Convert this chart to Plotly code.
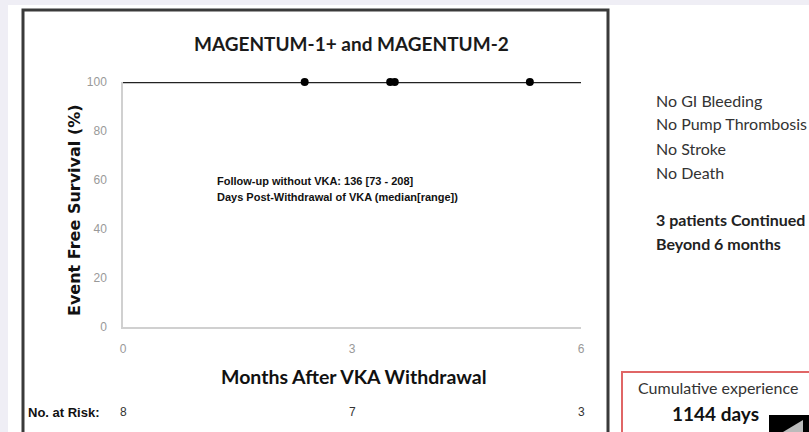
import plotly.graph_objects as go

# Kaplan-Meier data: event-free survival after VKA withdrawal
km_months = [0, 6]
km_survival = [100, 100]
censor_months = [2.38, 3.50, 3.56, 5.33]
censor_survival = [100, 100, 100, 100]

x_ticks = [0, 3, 6]
y_ticks = [0, 20, 40, 60, 80, 100]

risk_months = [0, 3, 6]
risk_counts = [8, 7, 3]

outcome_lines = ["No GI Bleeding", "No Pump Thrombosis", "No Stroke", "No Death"]
continued_lines = ["3 patients Continued", "Beyond 6 months"]
cumulative_days = 1144

W, H = 809, 432
L, R, T, B = 123, 581, 82, 327


def px(x):
    return (x - L) / (R - L)


def py(y):
    return (B - y) / (B - T)


fig = go.Figure()
fig.add_trace(go.Scatter(
    x=km_months, y=km_survival, mode="lines",
    line=dict(color="#222222", width=2.5), cliponaxis=False, showlegend=False,
))
fig.add_trace(go.Scatter(
    x=censor_months, y=censor_survival, mode="markers",
    marker=dict(color="#000000", size=8), cliponaxis=False, showlegend=False,
))

narrow = "Liberation Sans Narrow, Arial Narrow, Liberation Sans, Arial"
sans = "Lato, Open Sans, sans-serif"

ann = []
ann.append(dict(text="<b>MAGENTUM-1+ and MAGENTUM-2</b>", x=px(351), y=py(43),
                font=dict(family=sans, size=19, color="#1a1a1a"), showarrow=False,
                xanchor="center", yanchor="middle"))
ann.append(dict(text="<b>Event Free Survival (%)</b>", x=px(74), y=py(210), textangle=-90,
                font=dict(family="DejaVu Sans", size=16, color="#111111"), showarrow=False,
                xanchor="center", yanchor="middle"))
ann.append(dict(text="<b>Months After VKA Withdrawal</b>", x=px(354), y=py(376),
                font=dict(family=sans, size=19.5, color="#111111"), showarrow=False,
                xanchor="center", yanchor="middle"))
ann.append(dict(text="<b>Follow-up without VKA: 136 [73 - 208]</b>", x=px(215), y=py(181),
                font=dict(family=narrow, size=11, color="#111111"), showarrow=False,
                xanchor="left", yanchor="middle"))
ann.append(dict(text="<b>Days Post-Withdrawal of VKA (median[range])</b>", x=px(215), y=py(197),
                font=dict(family=narrow, size=11, color="#111111"), showarrow=False,
                xanchor="left", yanchor="middle"))
ann.append(dict(text="<b>No. at Risk:</b>", x=px(26), y=py(412),
                font=dict(family=narrow, size=13, color="#111111"), showarrow=False,
                xanchor="left", yanchor="middle"))
for m, n in zip(risk_months, risk_counts):
    ann.append(dict(text=str(n), x=m, xref="x", y=py(412),
                    font=dict(family=narrow, size=12, color="#333333"), showarrow=False,
                    xanchor="center", yanchor="middle"))

for i, t in enumerate(outcome_lines):
    ann.append(dict(text=t, x=px(654), y=py(100 + 24 * i),
                    font=dict(family=sans, size=16, color="#333333"), showarrow=False,
                    xanchor="left", yanchor="middle"))
for i, t in enumerate(continued_lines):
    ann.append(dict(text="<b>%s</b>" % t, x=px(654), y=py(219 + 24 * i),
                    font=dict(family=sans, size=16, color="#222222"), showarrow=False,
                    xanchor="left", yanchor="middle"))

ann.append(dict(text="Cumulative experience", x=px(718), y=py(387),
                font=dict(family=sans, size=16, color="#333333"), showarrow=False,
                xanchor="center", yanchor="middle"))
ann.append(dict(text="<b>%d days</b>" % cumulative_days, x=px(715), y=py(413),
                font=dict(family=sans, size=19, color="#111111"), showarrow=False,
                xanchor="center", yanchor="middle"))

for a in ann:
    a.setdefault("xref", "paper")
    a["yref"] = "paper"

shapes = [
    # page edge strips
    dict(type="rect", x0=px(0), x1=px(8), y0=py(0), y1=py(H), fillcolor="#efeef5",
         line=dict(width=0), layer="below"),
    dict(type="rect", x0=px(0), x1=px(W), y0=py(0), y1=py(5), fillcolor="#efeef5",
         line=dict(width=0), layer="below"),
    # chart frame
    dict(type="rect", x0=px(23), x1=px(608), y0=py(10), y1=py(H + 10),
         line=dict(color="#3a3a3a", width=3), fillcolor="rgba(0,0,0,0)"),
    # cumulative experience box
    dict(type="rect", x0=px(622), x1=px(W + 10), y0=py(372), y1=py(H + 10),
         line=dict(color="#e06666", width=2), fillcolor="rgba(0,0,0,0)"),
    # player control corner
    dict(type="rect", x0=px(769), x1=px(W), y0=py(415), y1=py(H),
         fillcolor="#000000", line=dict(width=0)),
    dict(type="path", path="M %f,%f L %f,%f L %f,%f Z" % (px(783), py(H), px(803), py(420), px(803), py(H)),
         fillcolor="#bbbbbb", line=dict(width=0)),
]
for s in shapes:
    s["xref"] = "paper"
    s["yref"] = "paper"

fig.update_layout(
    width=W, height=H,
    margin=dict(l=L, r=W - R, t=T, b=H - B, pad=0),
    paper_bgcolor="#ffffff", plot_bgcolor="#ffffff",
    showlegend=False,
    annotations=ann, shapes=shapes,
    xaxis=dict(range=[0, 6], tickvals=x_ticks, showgrid=False, zeroline=False,
               showline=True, linecolor="#d0d0d0", linewidth=1.5, ticks="",
               tickfont=dict(family=narrow, size=12, color="#999999"),
               ticklabelstandoff=10),
    yaxis=dict(range=[0, 100], tickvals=y_ticks, showgrid=False, zeroline=False,
               showline=True, linecolor="#d0d0d0", linewidth=1.5, ticks="",
               tickfont=dict(family=narrow, size=12, color="#999999"),
               ticklabelstandoff=12),
)

fig.write_html("out.html")
